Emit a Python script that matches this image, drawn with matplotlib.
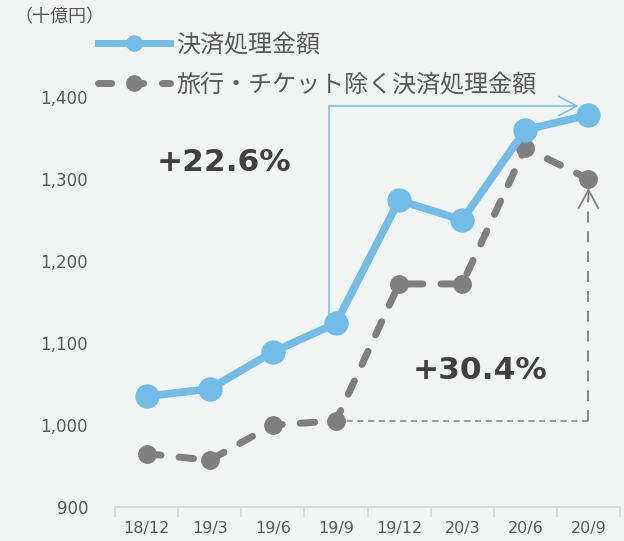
import matplotlib
matplotlib.use("Agg")
import matplotlib.pyplot as plt
from matplotlib.lines import Line2D

plt.rcParams['font.family'] = ['Noto Sans CJK JP', 'DejaVu Sans']

# Quarter labels and amounts (billion yen)
quarters = ["18/12", "19/3", "19/6", "19/9", "19/12", "20/3", "20/6", "20/9"]
total_amount = [1035, 1044, 1089, 1124, 1274, 1250, 1360, 1378]
excl_travel = [965, 957, 1000, 1005, 1172, 1172, 1338, 1300]
label_total = "決済処理金額"
label_excl = "旅行・チケット除く決済処理金額"
growth_total = "+22.6%"
growth_excl = "+30.4%"
unit_label = "（十億円）"
yticks = [900, 1000, 1100, 1200, 1300, 1400]

BG = "#F2F4F3"
BLUE = "#71BDE8"
GRAY = "#7F7F7F"
TEXT = "#595959"
DARK = "#404040"
NUM_FONT = ["DejaVu Sans"]

fig = plt.figure(figsize=(6.24, 5.41), dpi=100, facecolor=BG)
ax = fig.add_axes([115 / 624, 1 - 507 / 541, 505 / 624, 451 / 541], facecolor=BG)

x = list(range(len(quarters)))

ax.plot(x, total_amount, color=BLUE, lw=5.5, marker="o", ms=16.5,
        mfc=BLUE, mec=BLUE, zorder=4, solid_capstyle="round")
ax.plot(x, excl_travel, color=GRAY, lw=5, marker="o", ms=12.5,
        mfc=GRAY, mec=GRAY, zorder=3,
        linestyle=(0, (2.1, 2.6)), dash_capstyle="round")

# Bracket for total amount growth (19/9 -> 20/9)
i0, i1 = 3, 7
top_level = 1389
ax.plot([i0 - 0.11, i0 - 0.11], [total_amount[i0], top_level],
        color=BLUE, lw=1.1, zorder=2)
ax.annotate("", xy=(i1 - 0.16, top_level), xytext=(i0 - 0.11, top_level),
            arrowprops=dict(arrowstyle="->,head_length=1.3,head_width=0.7",
                            color=BLUE, lw=1.1, shrinkA=0, shrinkB=0),
            zorder=2)

# Bracket for growth excluding travel/tickets
tip = excl_travel[i1] - 11
ax.plot([i0, i1], [excl_travel[i0], excl_travel[i0]], color=GRAY, lw=1.1,
        linestyle=(0, (4, 3)), zorder=2)
ax.plot([i1, i1], [excl_travel[i0], tip - 12], color=GRAY, lw=1.3,
        linestyle=(0, (6, 5)), zorder=2)
ax.annotate("", xy=(i1, tip), xytext=(i1, tip - 14),
            arrowprops=dict(arrowstyle="->,head_length=1.3,head_width=0.7",
                            color=GRAY, lw=1.3, shrinkA=0, shrinkB=0),
            zorder=2)

ax.text(1.235, 1320, growth_total, ha="center", va="center", fontsize=22.5,
        fontweight="bold", color=DARK, family=NUM_FONT)
ax.text(5.28, 1067, growth_excl, ha="center", va="center", fontsize=22.5,
        fontweight="bold", color=DARK, family=NUM_FONT)

ax.set_xlim(-0.5, len(quarters) - 0.5)
ax.set_ylim(900, 1450)

ax.set_xticks(x)
ax.set_xticklabels(quarters, family=NUM_FONT)
ax.set_xticks([v - 0.5 for v in range(len(quarters) + 1)], minor=True)
ax.tick_params(axis="x", which="major", length=0, pad=10, labelsize=11.5,
               labelcolor=TEXT)
ax.tick_params(axis="x", which="minor", length=7, width=1.3, color="#D9D9D9")

ax.set_yticks(yticks)
ax.set_yticklabels([f"{v:,}" for v in yticks], family=NUM_FONT)
ax.tick_params(axis="y", length=0, pad=27 / 1.389, labelsize=12,
               labelcolor=TEXT)

for s in ["top", "right", "left"]:
    ax.spines[s].set_visible(False)
ax.spines["bottom"].set_color("#D9D9D9")
ax.spines["bottom"].set_linewidth(1.3)

fig.text(14 / 624, 1 - 17 / 541, unit_label, ha="left", va="center",
         fontsize=13, color=TEXT)

handles = [
    Line2D([], [], color=BLUE, lw=5, marker="o", ms=11, mfc=BLUE, mec=BLUE),
    Line2D([], [], color=GRAY, lw=5, marker="o", ms=11, mfc=GRAY, mec=GRAY,
           linestyle=(0, (1.9, 2.7)), dash_capstyle="round"),
]
fig.legend(handles, [label_total, label_excl], loc="upper left",
           bbox_to_anchor=(98 / 624, 1 - 31 / 541), frameon=False,
           fontsize=17.3, handlelength=3.0, handletextpad=0.25,
           labelspacing=0.6, borderpad=0, borderaxespad=0, numpoints=1,
           labelcolor=TEXT)

fig.savefig("out.png", dpi=100, facecolor=BG)
